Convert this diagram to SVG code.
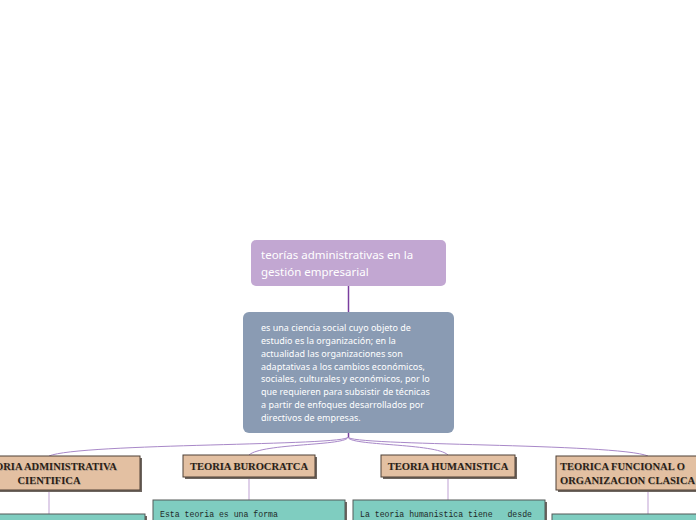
<svg xmlns="http://www.w3.org/2000/svg" width="696" height="520" viewBox="0 0 696 520">
<style>
.title{font-family:"Noto Sans","Open Sans",sans-serif;font-size:11.5px;fill:#ffffff}
.main{font-family:"Noto Sans","Open Sans",sans-serif;font-size:9px;fill:#ffffff}
.hdr{font-family:"Liberation Serif","DejaVu Serif",serif;font-weight:bold;font-size:10.5px;fill:#2a1e16}
.hdrsh{font-family:"Liberation Serif","DejaVu Serif",serif;font-weight:bold;font-size:10.5px;fill:#b8a08c}
.hbox{fill:#e3c0a2;stroke:#4e4036;stroke-width:1}
.shadow{fill:#6e6660}
.tbox{fill:#7fcdc0;stroke:#555a58;stroke-width:1}
.mono{font-family:"Liberation Mono","DejaVu Sans Mono",monospace;font-size:8.2px;fill:#1e2a28}
.conn{fill:none;stroke:#a888c8;stroke-width:1}
.vline{fill:none;stroke:#d4c0e2;stroke-width:1.5}
</style>
<rect width="696" height="520" fill="#ffffff"/>
<g id="connectors">
<path d="M348.5,286 V312" fill="none" stroke="#7a3e9e" stroke-width="1.5"/>
<path d="M348.5,433 V438" fill="none" stroke="#7a3e9e" stroke-width="1.5"/>
<path class="conn" d="M348,437 C348,446 80,443 49,456"/>
<path class="conn" d="M348,437 C348,446 262,443 249,455"/>
<path class="conn" d="M348,437 C348,446 436,443 448,455"/>
<path class="conn" d="M348,437 C348,446 616,443 648,456"/>
<path class="vline" d="M49,490 V514"/>
<path class="vline" d="M249,477 V500"/>
<path class="vline" d="M448,477 V500"/>
<path class="vline" d="M648,490 V514"/>
</g>
<g id="title">
<rect x="251" y="240" width="195" height="46" rx="5" fill="#c2a7d2"/>
<text class="title" x="261" y="259">teorías administrativas en la</text>
<text class="title" x="261" y="275.5">gestión empresarial</text>
</g>
<g id="main">
<rect x="243" y="312" width="211" height="121" rx="6" fill="#8a9bb3"/>
<text class="main" x="261" y="331">es una ciencia social cuyo objeto de</text>
<text class="main" x="261" y="343.9">estudio es la organización; en la</text>
<text class="main" x="261" y="356.7">actualidad las organizaciones son</text>
<text class="main" x="261" y="369.6">adaptativas a los cambios económicos,</text>
<text class="main" x="261" y="382.4">sociales, culturales y económicos, por lo</text>
<text class="main" x="261" y="395.3">que requieren para subsistir de técnicas</text>
<text class="main" x="261" y="408.1">a partir de enfoques desarrollados por</text>
<text class="main" x="261" y="421">directivos de empresas.</text>
</g>
<g id="n1">
<rect class="shadow" x="-42" y="458" width="184" height="34"/>
<rect class="hbox" x="-44" y="456" width="184" height="34"/>
<text class="hdrsh" x="49.7" y="470.7" text-anchor="middle">TEORIA ADMINISTRATIVA</text>
<text class="hdr" x="49" y="470" text-anchor="middle">TEORIA ADMINISTRATIVA</text>
<text class="hdrsh" x="49.7" y="484.7" text-anchor="middle">CIENTIFICA</text>
<text class="hdr" x="49" y="484" text-anchor="middle">CIENTIFICA</text>
</g>
<g id="n2">
<rect class="shadow" x="185" y="457" width="132" height="22"/>
<rect class="hbox" x="183" y="455" width="132" height="22"/>
<text class="hdrsh" x="249.7" y="470.2" text-anchor="middle">TEORIA BUROCRATCA</text>
<text class="hdr" x="249" y="469.5" text-anchor="middle">TEORIA BUROCRATCA</text>
</g>
<g id="n3">
<rect class="shadow" x="383" y="457" width="134" height="22"/>
<rect class="hbox" x="381" y="455" width="134" height="22"/>
<text class="hdrsh" x="448.7" y="470.2" text-anchor="middle">TEORIA HUMANISTICA</text>
<text class="hdr" x="448" y="469.5" text-anchor="middle">TEORIA HUMANISTICA</text>
</g>
<g id="n4">
<rect class="shadow" x="558" y="458" width="184" height="34"/>
<rect class="hbox" x="556" y="456" width="184" height="34"/>
<text class="hdrsh" x="560.7" y="470.7">TEORICA FUNCIONAL O</text>
<text class="hdr" x="560" y="470">TEORICA FUNCIONAL O</text>
<text class="hdrsh" x="560.7" y="484.7">ORGANIZACION CLASICA</text>
<text class="hdr" x="560" y="484">ORGANIZACION CLASICA</text>
</g>
<g id="d1">
<rect class="shadow" x="-45" y="516" width="192" height="20"/>
<rect class="tbox" x="-47" y="514" width="192" height="20"/>
</g>
<g id="d2">
<rect class="shadow" x="155" y="502" width="192" height="30"/>
<rect class="tbox" x="153" y="500" width="192" height="30"/>
<text class="mono" x="160" y="517">Esta teoria es una forma</text>
</g>
<g id="d3">
<rect class="shadow" x="355" y="502" width="192" height="30"/>
<rect class="tbox" x="353" y="500" width="192" height="30"/>
<text class="mono" x="360" y="517" xml:space="preserve">La teoria humanistica tiene   desde</text>
</g>
<g id="d4">
<rect class="shadow" x="554" y="516" width="192" height="20"/>
<rect class="tbox" x="552" y="514" width="192" height="20"/>
</g>
</svg>
